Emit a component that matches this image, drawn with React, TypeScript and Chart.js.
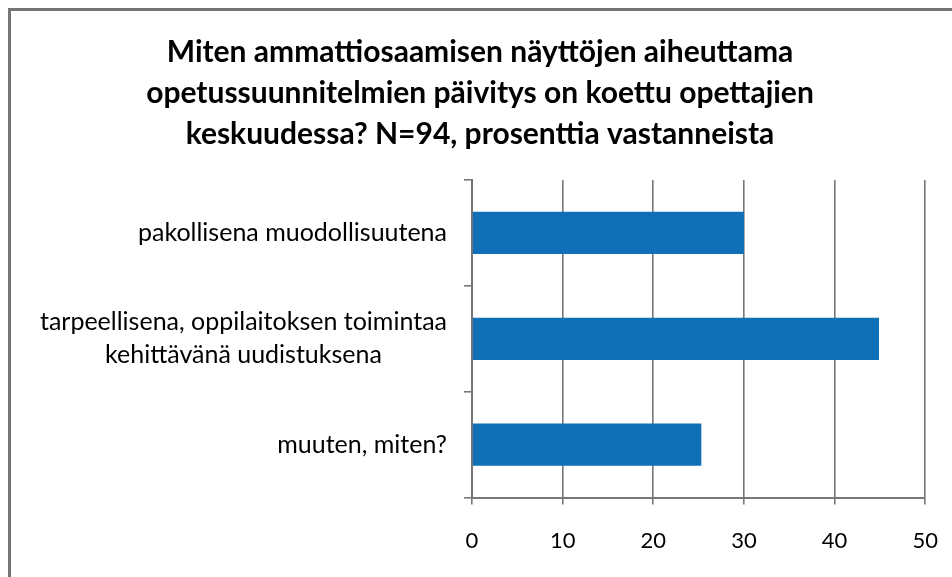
import React, { useEffect, useRef } from "react";
import { Chart, registerables } from "chart.js";

Chart.register(...registerables);

const titleLines = [
  "Miten ammattiosaamisen näyttöjen aiheuttama",
  "opetussuunnitelmien päivitys on koettu opettajien",
  "keskuudessa? N=94, prosenttia vastanneista",
];
const categories: (string | string[])[] = [
  "pakollisena muodollisuutena",
  ["tarpeellisena, oppilaitoksen toimintaa", "kehittävänä uudistuksena"],
  "muuten, miten?",
];
const values = [30.0, 44.9, 25.3];
const xMin = 0;
const xMax = 50;
const xStep = 10;

const FONT = "Lato, 'Open Sans', sans-serif";
const GRID = "#777777";

const yLabelPlugin = {
  id: "yLabelsCentered",
  afterDraw(chart: any) {
    const ctx = chart.ctx;
    const scale = chart.scales.y;
    const lineH = 33;
    ctx.save();
    ctx.font = `25px ${FONT}`;
    ctx.fillStyle = "#000";
    ctx.textBaseline = "middle";
    ctx.textAlign = "center";
    const right = chart.chartArea.left - 25;
    (chart.data.labels as (string | string[])[]).forEach((lab, i) => {
      const lines = Array.isArray(lab) ? lab : [lab];
      const maxW = Math.max(...lines.map((l) => ctx.measureText(l).width));
      const cx = right - maxW / 2;
      const cy = scale.getPixelForValue(i);
      lines.forEach((l, j) => {
        ctx.fillText(l, cx, cy + (j - (lines.length - 1) / 2) * lineH);
      });
    });
    ctx.restore();
  },
};

export default function App() {
  const ref = useRef<HTMLCanvasElement>(null);
  useEffect(() => {
    if (!ref.current) return;
    const chart = new Chart(ref.current, {
      type: "bar",
      data: {
        labels: categories,
        datasets: [
          {
            data: values,
            backgroundColor: "#0f70b7",
            borderWidth: 0,
            barPercentage: 0.4,
            categoryPercentage: 1,
          },
        ],
      },
      options: {
        indexAxis: "y",
        responsive: false,
        animation: false,
        layout: { padding: { left: 0, right: 12, top: 0, bottom: 0 } },
        plugins: {
          legend: { display: false },
          tooltip: { enabled: false },
          title: {
            display: true,
            text: titleLines,
            color: "#000",
            font: { family: FONT, size: 30, weight: "bold", lineHeight: 41 / 30 },
            padding: { top: 21, bottom: 25 },
          },
        },
        scales: {
          x: {
            min: xMin,
            max: xMax,
            ticks: {
              stepSize: xStep,
              color: "#000",
              font: { family: FONT, size: 22 },
              padding: 23,
            },
            grid: {
              color: GRID,
              lineWidth: 1.6,
              tickLength: 7,
              drawTicks: true,
            },
            border: { color: GRID, width: 2 },
          },
          y: {
            afterFit: (scale: any) => {
              scale.width = 461;
            },
            ticks: { display: false },
            grid: {
              color: GRID,
              lineWidth: 1.6,
              drawOnChartArea: false,
              drawTicks: true,
              tickLength: 8,
              offset: true,
            },
            border: { color: GRID, width: 2 },
          },
        },
      },
      plugins: [yLabelPlugin],
    });
    return () => chart.destroy();
  }, []);
  return (
    <div
      style={{
        position: "fixed",
        left: 8,
        top: 8,
        width: 944,
        height: 569,
        overflow: "hidden",
        boxSizing: "border-box",
        borderLeft: "3px solid #747474",
        borderTop: "3px solid #747474",
        background: "#fff",
      }}
    >
      <canvas ref={ref} width={950} height={566} style={{ display: "block" }} />
    </div>
  );
}
